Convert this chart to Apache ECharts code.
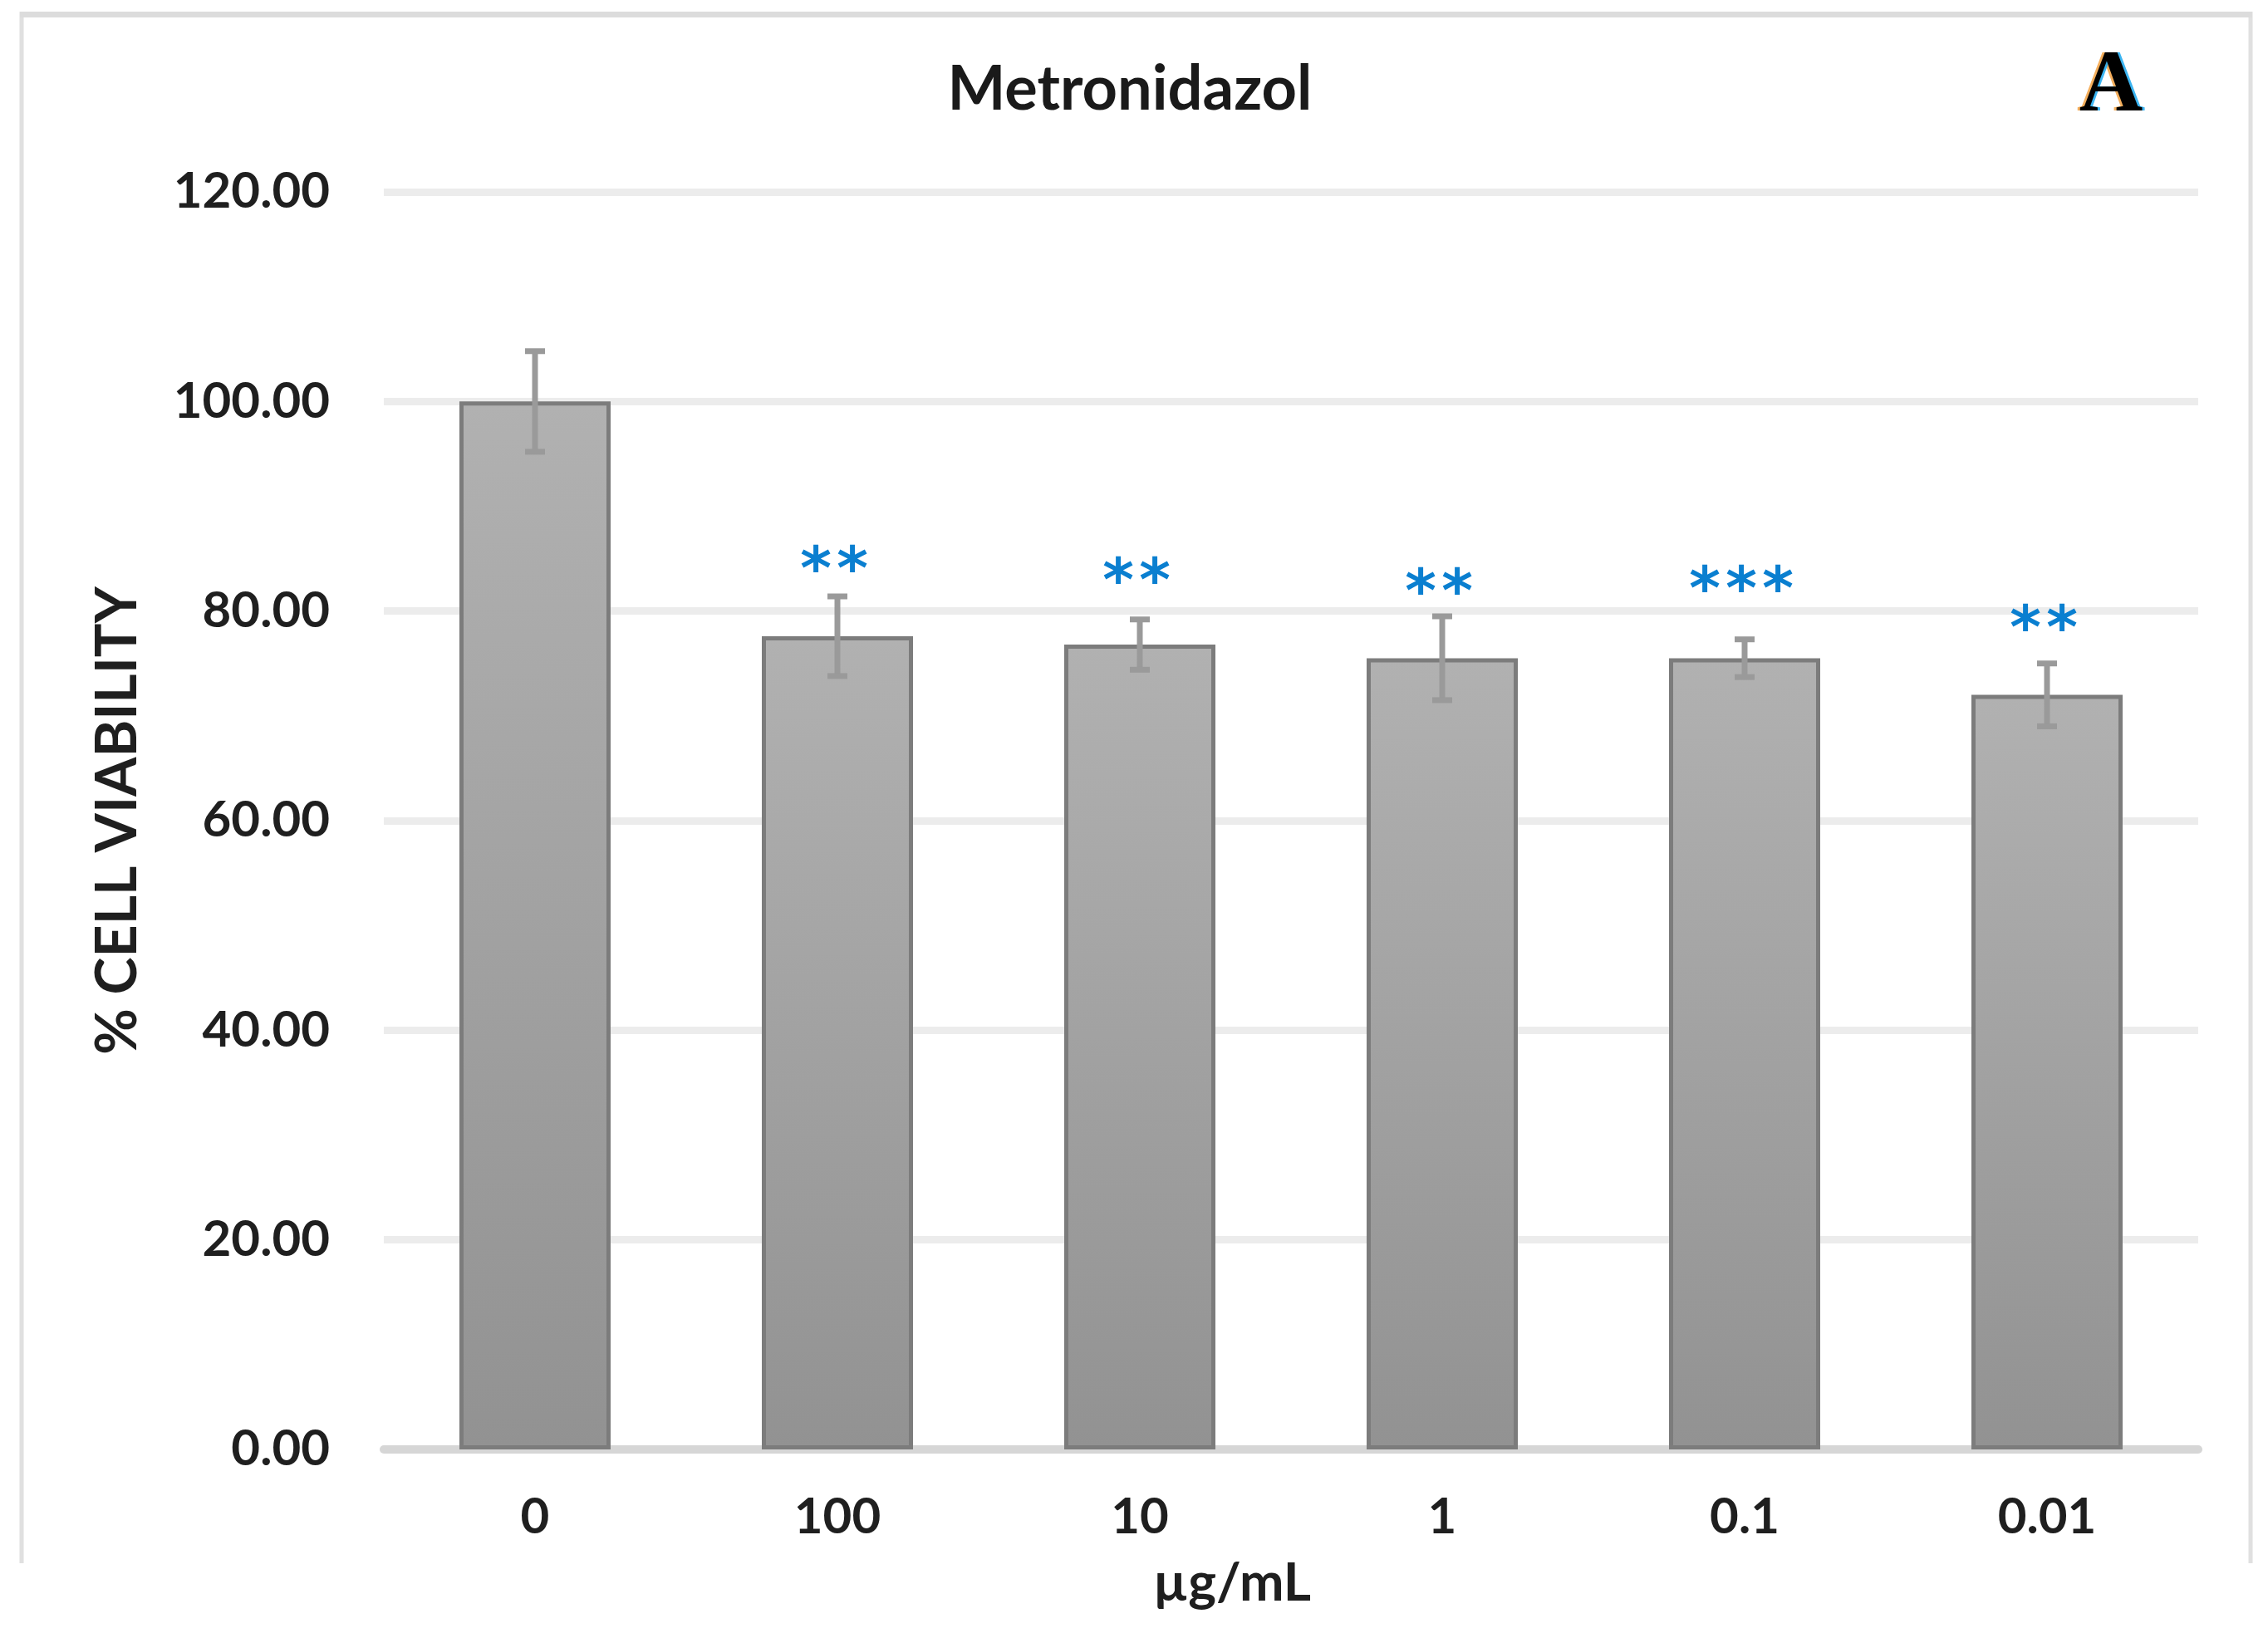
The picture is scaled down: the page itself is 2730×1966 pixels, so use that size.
<!DOCTYPE html>
<html><head><meta charset="utf-8">
<script src="https://cdn.jsdelivr.net/npm/echarts@6/dist/echarts.min.js"></script>
<style>html,body{margin:0;padding:0;background:#fff;} #c{width:2730px;height:1966px;}</style>
</head><body><div id="c"></div>
<script>
// ---- data ----
const categories = ['0', '100', '10', '1', '0.1', '0.01'];
const viability = [100.0, 77.6, 76.8, 75.5, 75.5, 72.0];
const errorSD = [4.8, 3.8, 2.4, 4.0, 1.8, 3.0];
const significance = ['', '**', '**', '**', '***', '**'];
const significanceY = [null, 85.0, 83.9, 82.9, 83.1, 79.4];
const yMin = 0, yMax = 120, yStep = 20;
const chartTitle = 'Metronidazol';
const panelLetter = 'A';
const yName = '% CELL VIABILITY';
const xName = 'µg/mL';

const FONT = 'Lato';
const chart = echarts.init(document.getElementById('c'), null, {renderer: 'canvas'});

const errData = categories.map((c, i) => [i, viability[i] - errorSD[i], viability[i] + errorSD[i]]);
const sigData = categories.map((c, i) => [i, significanceY[i] == null ? 0 : significanceY[i], significance[i].length]).filter(d => d[2] > 0);

const letterFont = 'bold 106px "Liberation Serif"';

const option = {
  backgroundColor: '#ffffff',
  animation: false,
  grid: {left: 462, right: 84, top: 231, bottom: 221, containLabel: false},
  xAxis: {
    type: 'category',
    data: categories,
    axisLine: {show: true, lineStyle: {color: '#d6d6d6', width: 10}},
    axisTick: {show: false},
    axisLabel: {margin: 52, fontFamily: FONT, fontWeight: 'bold', fontSize: 60, color: '#1f1f1f'},
    splitLine: {show: false}
  },
  yAxis: {
    type: 'value',
    min: yMin, max: yMax, interval: yStep,
    name: yName,
    nameLocation: 'middle',
    nameRotate: 90,
    nameGap: 286,
    nameTextStyle: {fontFamily: FONT, fontWeight: 'bold', fontSize: 68, color: '#1f1f1f'},
    axisLine: {show: false},
    axisTick: {show: false},
    axisLabel: {margin: 65, fontFamily: FONT, fontWeight: 'bold', fontSize: 60, color: '#1f1f1f',
      formatter: v => v.toFixed(2)},
    splitLine: {show: true, lineStyle: {color: '#ececec', width: 9}}
  },
  graphic: [
    {type: 'line', shape: {x1: 26, y1: 14, x2: 26, y2: 1882}, style: {stroke: '#e0e0e0', lineWidth: 5}, silent: true},
    {type: 'line', shape: {x1: 2709, y1: 14, x2: 2709, y2: 1882}, style: {stroke: '#e0e0e0', lineWidth: 5}, silent: true},
    {type: 'line', shape: {x1: 24, y1: 17.5, x2: 2711, y2: 17.5}, style: {stroke: '#dcdcdc', lineWidth: 7}, silent: true},
    {type: 'text', x: 1360, y: 108, style: {text: chartTitle, font: 'bold 74px ' + FONT, fill: '#1a1a1a', textAlign: 'center', textVerticalAlign: 'middle'}},
    {type: 'text', x: 2538, y: 106, style: {text: panelLetter, font: letterFont, fill: '#f2a040', opacity: 0.85, textAlign: 'center', textVerticalAlign: 'middle'}},
    {type: 'text', x: 2544, y: 106, style: {text: panelLetter, font: letterFont, fill: '#1aa8f0', opacity: 0.85, textAlign: 'center', textVerticalAlign: 'middle'}},
    {type: 'text', x: 2541, y: 106, style: {text: panelLetter, font: letterFont, fill: '#000000', textAlign: 'center', textVerticalAlign: 'middle'}},
    {type: 'text', x: 1483, y: 1906, style: {text: xName, font: 'bold 64px ' + FONT, fill: '#1f1f1f', textAlign: 'center', textVerticalAlign: 'middle'}}
  ],
  series: [
    {
      type: 'bar',
      data: viability,
      barWidth: '50%',
      itemStyle: {
        color: new echarts.graphic.LinearGradient(0, 0, 0, 1, [
          {offset: 0, color: '#b1b1b1'}, {offset: 1, color: '#929292'}
        ]),
        borderColor: '#7c7c7c',
        borderWidth: 5
      },
      z: 2
    },
    {
      type: 'custom',
      data: errData,
      z: 3,
      renderItem: function (params, api) {
        const x = api.value(0);
        const lo = api.coord([x, api.value(1)]);
        const hi = api.coord([x, api.value(2)]);
        const cap = 12;
        const col = '#9a9a9a';
        return {type: 'group', children: [
          {type: 'line', shape: {x1: hi[0], y1: hi[1], x2: lo[0], y2: lo[1]}, style: {stroke: col, lineWidth: 7}},
          {type: 'line', shape: {x1: hi[0] - cap, y1: hi[1], x2: hi[0] + cap, y2: hi[1]}, style: {stroke: col, lineWidth: 7}},
          {type: 'line', shape: {x1: lo[0] - cap, y1: lo[1], x2: lo[0] + cap, y2: lo[1]}, style: {stroke: col, lineWidth: 7}}
        ]};
      }
    },
    {
      type: 'custom',
      data: sigData,
      z: 4,
      renderItem: function (params, api) {
        const p = api.coord([api.value(0), api.value(1)]);
        const n = api.value(2);
        const children = [];
        for (let k = 0; k < n; k++) {
          children.push({type: 'text', x: p[0] - 4 + (k - (n - 1) / 2) * 44, y: p[1] + 18,
            style: {text: '*', font: 'bold 72px "DejaVu Sans"', fill: '#0a7fd0', textAlign: 'center', textVerticalAlign: 'middle'}});
        }
        return {type: 'group', children: children};
      }
    }
  ]
};
chart.setOption(option);
</script></body></html>
